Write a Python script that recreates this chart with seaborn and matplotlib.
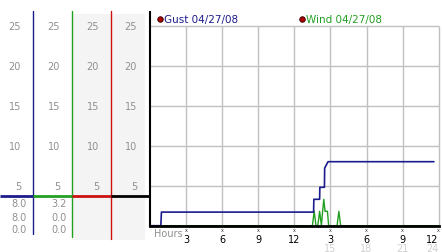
import matplotlib
matplotlib.use("Agg")
import matplotlib.pyplot as plt
import matplotlib.transforms as mtransforms
import seaborn as sns
import numpy as np

# ---------------- data ----------------
gust_hours = [0.0, 0.9, 0.95, 13.6, 13.62, 14.1, 14.12, 14.5, 14.52, 14.8, 23.6]
gust_vals  = [0.0, 0.0, 1.7, 1.7, 3.3, 3.3, 4.8, 4.8, 7.2, 8.0, 8.0]
wind_hours = [0.0, 13.5, 13.65, 13.8, 13.95, 14.1, 14.25, 14.35, 14.45, 14.55, 14.6, 14.75,
              14.85, 15.55, 15.7, 15.85, 24.0]
wind_vals  = [0.0, 0.0, 1.8, 0.0, 0.0, 1.8, 0.0, 1.8, 3.3, 1.8, 1.8, 1.8,
              0.0, 0.0, 1.8, 0.0, 0.0]
y_ticks = [5, 10, 15, 20, 25]
x_ticks = [3, 6, 9, 12, 15, 18, 21, 24]
x_labels = ["3", "6", "9", "12", "3", "6", "9", "12"]
x_labels2 = ["15", "18", "21", "24"]
series_names = ["Gust 04/27/08", "Wind 04/27/08"]
col1_vals = ["8.0", "8.0", "0.0"]
col2_vals = ["3.2", "0.0", "0.0"]

BLUE = "#1c1c8c"
GREEN = "#22a022"
RED = "#cc1111"
GRAY_TXT = "#909090"
GRID = "#c0c0c0"

sns.set_style("white")
plt.rcParams["font.family"] = ["DejaVu Sans"]

W, H = 442, 253
fig = plt.figure(figsize=(W / 100, H / 100), dpi=100)

# pixel geometry
x0, x1 = 150, 438.7
y_zero, px_per_unit = 226.7, 8.0
top_px = 13

# ---------------- main axes ----------------
ymax = (y_zero - top_px) / px_per_unit
ax = fig.add_axes([x0 / W, (H - y_zero) / H, (x1 - x0) / W, (y_zero - top_px) / H])
ax.set_xlim(0, 24)
ax.set_ylim(0, ymax)

ax.vlines(x_ticks, 0, 25, color=GRID, lw=1.0, zorder=1, clip_on=False)
ax.hlines(y_ticks, 0, 24, color=GRID, lw=1.0, zorder=1, clip_on=False)

sns.lineplot(x=wind_hours, y=wind_vals, ax=ax, color=GREEN, lw=1.0,
             estimator=None, sort=False, zorder=3)
sns.lineplot(x=gust_hours, y=gust_vals, ax=ax, color=BLUE, lw=1.2,
             estimator=None, sort=False, zorder=4)

for s in ["top", "right"]:
    ax.spines[s].set_visible(False)
ax.spines["left"].set_color("black")
ax.spines["left"].set_linewidth(1.5)
ax.spines["bottom"].set_color("black")
ax.spines["bottom"].set_linewidth(2.0)
ax.spines["bottom"].set_zorder(5)

ax.set_yticks(y_ticks)
ax.set_yticklabels([])
ax.tick_params(axis="y", length=2, width=0.8, direction="out", color="#444444")
ax.set_xticks(x_ticks)
ax.set_xticklabels(x_labels, fontsize=7, color="black")
ax.tick_params(axis="x", length=0, pad=6)
ax.get_xticklabels()[-1].set_horizontalalignment("right")

trans = mtransforms.blended_transform_factory(ax.transData, ax.transAxes)
for i, (xt, lab) in enumerate(zip(x_ticks[4:], x_labels2)):
    ax.text(xt, -0.105, lab, transform=trans,
            ha="right" if i == len(x_labels2) - 1 else "center", va="center",
            fontsize=7, color="#d0d0d0")
for xt in x_ticks:
    ax.text(xt, -0.02, "x", transform=trans, ha="center", va="center",
            fontsize=3.5, color="#333333")
ax.text(0.3, -0.032, "Hours", transform=trans, ha="left", va="center",
        fontsize=7, color=GRAY_TXT)

# legend
ly = (y_zero - 20) / px_per_unit
ax.scatter([0.8], [ly], s=16, color="#aa0000", edgecolor="#330000", lw=0.6, zorder=6, clip_on=False)
ax.text(1.2, ly, series_names[0], fontsize=7.5, color=BLUE, va="center", ha="left")
ax.scatter([12.6], [ly], s=16, color="#aa0000", edgecolor="#330000", lw=0.6, zorder=6, clip_on=False)
ax.text(13.0, ly, series_names[1], fontsize=7.5, color=GREEN, va="center", ha="left")

# ---------------- left panel ----------------
lax = fig.add_axes([0, 0, x0 / W, 1])
lax.set_xlim(0, x0)
lax.set_ylim((y_zero - H) / px_per_unit, y_zero / px_per_unit)
lax.axis("off")

def v(py):
    return (y_zero - py) / px_per_unit

bounds = [33, 72, 111, 149]
colors = [BLUE, GREEN, RED, "black"]
lax.add_patch(plt.Rectangle((72, v(241)), 73, v(15) - v(241), color="#f4f4f4", lw=0, zorder=0))
ends = [235, 238, 240]
for b, c, e in zip(bounds[:3], colors[:3], ends):
    lax.plot([b, b], [v(12), v(e)], color=c, lw=1.0, zorder=2)

left_edges = [0] + bounds[:3]
for le, b, c in zip(left_edges, bounds, colors):
    lax.plot([le, b + 1], [v(196.7), v(196.7)], color=c, lw=2.0, zorder=3,
             solid_capstyle="butt")
    for yt in y_ticks:
        lax.text(b - 12, yt, str(yt), ha="right", va="center", fontsize=7, color=GRAY_TXT)

rows_py = [204, 218, 230.5]
for val, py in zip(col1_vals, rows_py):
    lax.text(bounds[0] - 6, v(py), val, ha="right", va="center", fontsize=7, color=GRAY_TXT)
for val, py in zip(col2_vals, rows_py):
    lax.text(bounds[1] - 5, v(py), val, ha="right", va="center", fontsize=7, color=GRAY_TXT)

fig.savefig("out.png", dpi=100)
